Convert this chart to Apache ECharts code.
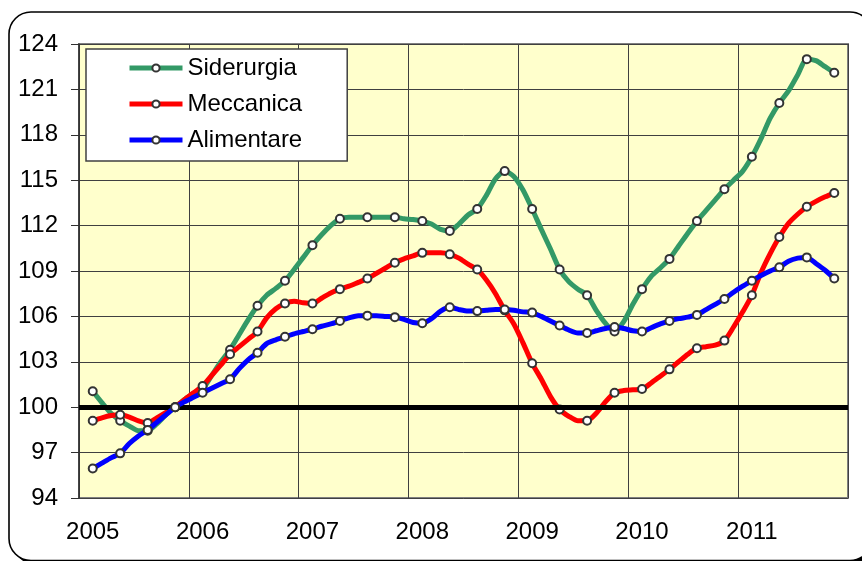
<!DOCTYPE html>
<html>
<head>
<meta charset="utf-8">
<script src="https://cdn.jsdelivr.net/npm/echarts@6/dist/echarts.min.js"></script>
<style>
	html, body { margin: 0; padding: 0; background: #fff; }
	#chart { width: 862px; height: 561px; }
</style>
</head>
<body>
<div id="chart"></div>
<script>
	// anni sull'asse, dati mensili (feb 2005 - nov 2011)
	let years = ['2005', '2006', '2007', '2008', '2009', '2010', '2011'];

	let siderurgia = [null,
		101.05, 100.3, 99.6, 99.1, 98.75, 98.45, 98.45, 98.9, 99.5, 100.0, 100.5, 100.9,
		101.2, 102.1, 103.0, 103.8, 104.8, 105.8, 106.7, 107.4, 107.85, 108.35, 109.1, 109.9,
		110.7, 111.4, 112.0, 112.45, 112.55, 112.55, 112.55, 112.55, 112.55, 112.55, 112.45, 112.4,
		112.3, 112.1, 111.75, 111.65, 112.1, 112.7, 113.1, 114.0, 115.1, 115.6, 115.25, 114.35,
		113.1, 111.75, 110.45, 109.1, 108.3, 107.8, 107.4, 106.4, 105.55, 105.0, 105.65, 106.8,
		107.8, 108.65, 109.2, 109.8, 110.65, 111.5, 112.3, 113.0, 113.7, 114.4, 115.0, 115.6,
		116.55, 117.75, 119.1, 120.1, 120.9, 121.95, 123.0, 122.9, 122.5, 122.1,
		null];

	let meccanica = [null,
		99.1, 99.3, 99.45, 99.5, 99.35, 99.1, 98.95, 99.3, 99.65, 100.0, 100.5, 100.95,
		101.4, 102.1, 102.8, 103.5, 104.0, 104.5, 105.0, 105.9, 106.5, 106.85, 107.0, 106.9,
		106.85, 107.2, 107.55, 107.8, 108.0, 108.25, 108.5, 108.85, 109.2, 109.55, 109.8, 110.0,
		110.2, 110.2, 110.2, 110.1, 109.85, 109.45, 109.1, 108.4, 107.5, 106.4, 105.5, 104.25,
		102.9, 101.85, 100.7, 99.85, 99.4, 99.1, 99.1, 99.6, 100.35, 100.95, 101.1, 101.15,
		101.2, 101.6, 102.05, 102.5, 103.0, 103.5, 103.9, 104.0, 104.1, 104.4, 105.3, 106.3,
		107.4, 108.9, 110.15, 111.25, 112.15, 112.75, 113.25, 113.6, 113.9, 114.15,
		null];

	let alimentare = [null,
		95.95, 96.3, 96.65, 96.95, 97.6, 98.1, 98.5, 99.0, 99.5, 100.0, 100.35, 100.65,
		100.95, 101.25, 101.55, 101.85, 102.55, 103.15, 103.6, 104.2, 104.45, 104.65, 104.85, 105.0,
		105.15, 105.35, 105.5, 105.7, 105.9, 106.05, 106.05, 106.05, 106.0, 105.95, 105.8, 105.6,
		105.55, 105.85, 106.35, 106.6, 106.45, 106.35, 106.35, 106.4, 106.45, 106.45, 106.4, 106.3,
		106.25, 106.0, 105.7, 105.4, 105.1, 104.9, 104.9, 105.05, 105.2, 105.3, 105.2, 105.05,
		105.0, 105.25, 105.5, 105.7, 105.85, 105.95, 106.1, 106.45, 106.8, 107.15, 107.6, 108.0,
		108.35, 108.7, 109.0, 109.25, 109.65, 109.85, 109.9, 109.5, 109.05, 108.5,
		null];

	let seriesNames = ['Siderurgia', 'Meccanica', 'Alimentare'];
	let seriesColors = ['#339966', '#ff0000', '#0000ff'];
	let seriesData = [siderurgia, meccanica, alimentare];

	let months = [];
	years.forEach(function(y) {
		for (let m = 1; m <= 12; m++) {
			months.push(y + '-' + (m < 10 ? '0' + m : m));
		}
	});

	let myChart = echarts.init(document.getElementById('chart'), null, { renderer: 'canvas' });

	let series = [
		// linea di riferimento a 100, sotto le altre
		{
			name: 'base',
			type: 'line',
			data: [],
			z: 1,
			silent: true,
			markLine: {
				silent: true,
				symbol: 'none',
				label: { show: false },
				lineStyle: { color: '#000', width: 5, type: 'solid' },
				data: [{ yAxis: 100 }]
			}
		}
	];

	seriesNames.forEach(function(name, i) {
		series.push({
			name: name,
			type: 'line',
			data: seriesData[i],
			z: 3 + i,
			smooth: 0.25,
			showAllSymbol: true,
			symbol: function(val, params) {
				return params.dataIndex % 3 === 1 ? 'circle' : 'none';
			},
			symbolSize: 8,
			lineStyle: { color: seriesColors[i], width: 5 },
			itemStyle: { color: '#fff', borderColor: '#333', borderWidth: 2 },
			emphasis: { disabled: true }
		});
	});

	let option = {
		animation: false,
		textStyle: { fontFamily: '"Liberation Sans", Arial, sans-serif' },
		graphic: [
			// ombra della cornice
			{
				type: 'rect',
				shape: { x: 13, y: 16, width: 863, height: 548.5, r: 22 },
				style: { fill: '#000' },
				z: -11
			},
			{
				type: 'rect',
				shape: { x: 9, y: 12, width: 863, height: 548.5, r: 22 },
				style: { fill: '#fff', stroke: '#000', lineWidth: 1.6 },
				z: -10
			}
		],
		grid: {
			left: 79,
			right: 14,
			top: 44,
			bottom: 63,
			show: true,
			backgroundColor: '#ffffcc',
			borderColor: '#808080',
			borderWidth: 2
		},
		legend: {
			orient: 'vertical',
			left: 86,
			top: 49,
			data: seriesNames,
			backgroundColor: '#fff',
			borderColor: '#404040',
			borderWidth: 1.5,
			padding: [7, 45, 9, 41],
			itemWidth: 53,
			itemHeight: 9,
			itemGap: 12,
			lineStyle: { width: 5 },
			textStyle: { fontSize: 24, color: '#000' }
		},
		xAxis: {
			type: 'category',
			data: months,
			boundaryGap: true,
			axisLine: { show: false },
			axisTick: { show: false },
			axisLabel: {
				interval: function(index) { return index % 12 === 1; },
				formatter: function(value) { return value.slice(0, 4); },
				fontSize: 24,
				color: '#000',
				margin: 22
			},
			splitLine: {
				show: true,
				interval: function(index) { return index % 12 === 0; },
				lineStyle: { color: '#404040', width: 1 }
			}
		},
		yAxis: {
			type: 'value',
			min: 94,
			max: 124,
			interval: 3,
			axisLine: { show: true, lineStyle: { color: '#303030', width: 1.5 } },
			axisTick: { show: true, length: 8, lineStyle: { color: '#303030' } },
			axisLabel: { fontSize: 24, color: '#000', margin: 21 },
			splitLine: { show: true, lineStyle: { color: '#404040', width: 1 } }
		},
		series: series
	};

	myChart.setOption(option);
</script>
</body>
</html>
